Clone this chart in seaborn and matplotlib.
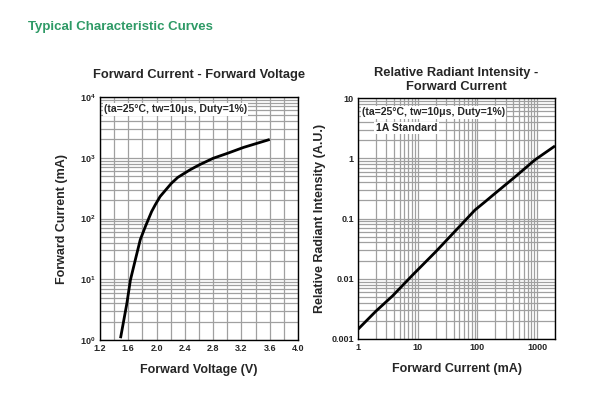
import numpy as np
import pandas as pd
import matplotlib
matplotlib.use('Agg')
import matplotlib.pyplot as plt
import matplotlib.ticker as mticker
import seaborn as sns

# Forward current vs forward voltage
vf_volts = [1.49, 1.58, 1.63, 1.70, 1.77, 1.84, 1.93, 1.98, 2.05, 2.21, 2.30,
            2.47, 2.60, 2.80, 3.00, 3.23, 3.60]
if_ma = [1.07, 4.0, 9.7, 21, 45, 73, 130, 167, 230, 380, 475,
         630, 760, 980, 1180, 1480, 2000]

# Relative radiant intensity vs forward current
ir_ma = [1, 2, 3.8, 8.2, 20, 53, 91, 135, 197, 427, 922, 2000]
ir_rel = [0.00145, 0.0029, 0.0052, 0.0115, 0.028, 0.078, 0.138, 0.19, 0.26, 0.49, 0.94, 1.6]

vf_ticks = [1.2, 1.6, 2.0, 2.4, 2.8, 3.2, 3.6, 4.0]
rel_ticks = [0.001, 0.01, 0.1, 1, 10]
rel_labels = ['0.001', '0.01', '0.1', '1', '10']
cur_ticks = [1, 10, 100, 1000]
cur_labels = ['1', '10', '100', '1000']

sns.set_style('white')
plt.rcParams['font.family'] = ['Liberation Sans', 'DejaVu Sans']
plt.rcParams['mathtext.fontset'] = 'custom'
plt.rcParams['mathtext.rm'] = 'Liberation Sans:bold'

fig = plt.figure(figsize=(5.95, 3.99), dpi=100)
fig.text(28 / 595, 1 - 27 / 399, 'Typical Characteristic Curves', color='#2e9a66',
         fontsize=9.5, fontweight='bold', va='center', ha='left')

grid_kw = dict(color='#a0a0a0', linewidth=0.9)
tick_font = dict(fontsize=6.5, fontweight='bold')
label_font = dict(fontsize=9, fontweight='bold')
note_font = dict(fontsize=7.6, fontweight='bold', va='center', ha='left')
line_kw = dict(color='black', linewidth=2, solid_joinstyle='round', solid_capstyle='butt')

# ---- left chart
ax1 = fig.add_axes([100 / 595, 1 - 340 / 399, 198 / 595, 243 / 399])
df1 = pd.DataFrame({'vf': vf_volts, 'if': if_ma})
sns.lineplot(data=df1, x='vf', y='if', ax=ax1, **line_kw)
ax1.set_yscale('log')
ax1.set_xlim(1.2, 4.0)
ax1.set_ylim(1, 1e4)
ax1.set_xticks(vf_ticks)
ax1.set_xticklabels([f'{t:.1f}' for t in vf_ticks], **tick_font)
ax1.xaxis.set_minor_locator(mticker.MultipleLocator(0.2))
ax1.set_yticks([1, 10, 100, 1000, 10000])
ax1.set_yticklabels([r'$10^{%d}$' % i for i in range(5)], fontsize=6.5)
ax1.yaxis.set_minor_locator(mticker.LogLocator(base=10, subs=np.arange(2, 10), numticks=20))
ax1.grid(True, which='both', **grid_kw)
ax1.set_xlabel('Forward Voltage (V)', labelpad=8, **label_font)
ax1.set_ylabel('Forward Current (mA)', labelpad=9, **label_font)
ax1.set_title('Forward Current - Forward Voltage', fontsize=9.3, fontweight='bold', pad=14)
ax1.text(0.02, 0.95, '(ta=25°C, tw=10μs, Duty=1%)', transform=ax1.transAxes,
         bbox=dict(facecolor='white', edgecolor='none', pad=1), **note_font)

# ---- right chart
ax2 = fig.add_axes([358 / 595, 1 - 339 / 399, 197 / 595, 241 / 399])
df2 = pd.DataFrame({'cur': ir_ma, 'rel': ir_rel})
sns.lineplot(data=df2, x='cur', y='rel', ax=ax2, **line_kw)
ax2.set_xscale('log')
ax2.set_yscale('log')
ax2.set_xlim(1, 2000)
ax2.set_ylim(0.001, 10)
ax2.set_xticks(cur_ticks)
ax2.set_xticklabels(cur_labels, **tick_font)
ax2.set_yticks(rel_ticks)
ax2.set_yticklabels(rel_labels, **tick_font)
ax2.xaxis.set_minor_locator(mticker.LogLocator(base=10, subs=np.arange(2, 10), numticks=20))
ax2.yaxis.set_minor_locator(mticker.LogLocator(base=10, subs=np.arange(2, 10), numticks=20))
ax2.xaxis.set_minor_formatter(mticker.NullFormatter())
ax2.yaxis.set_minor_formatter(mticker.NullFormatter())
ax2.grid(True, which='both', **grid_kw)
ax2.set_xlabel('Forward Current (mA)', labelpad=8, **label_font)
ax2.set_ylabel('Relative Radiant Intensity (A.U.)', labelpad=4, **label_font)
ax2.set_title('Relative Radiant Intensity -\nForward Current', fontsize=9.3,
              fontweight='bold', pad=6, linespacing=1.2)
ax2.text(0.02, 0.94, '(ta=25°C, tw=10μs, Duty=1%)', transform=ax2.transAxes,
         bbox=dict(facecolor='white', edgecolor='none', pad=1), **note_font)
ax2.text(0.09, 0.875, '1A Standard', transform=ax2.transAxes,
         bbox=dict(facecolor='white', edgecolor='none', pad=1), **note_font)

for ax in (ax1, ax2):
    ax.tick_params(which='both', length=0, pad=3)
    for s in ax.spines.values():
        s.set_color('black')
        s.set_linewidth(1.0)
    ax.set_axisbelow(True)

fig.savefig('out.png', dpi=100)
